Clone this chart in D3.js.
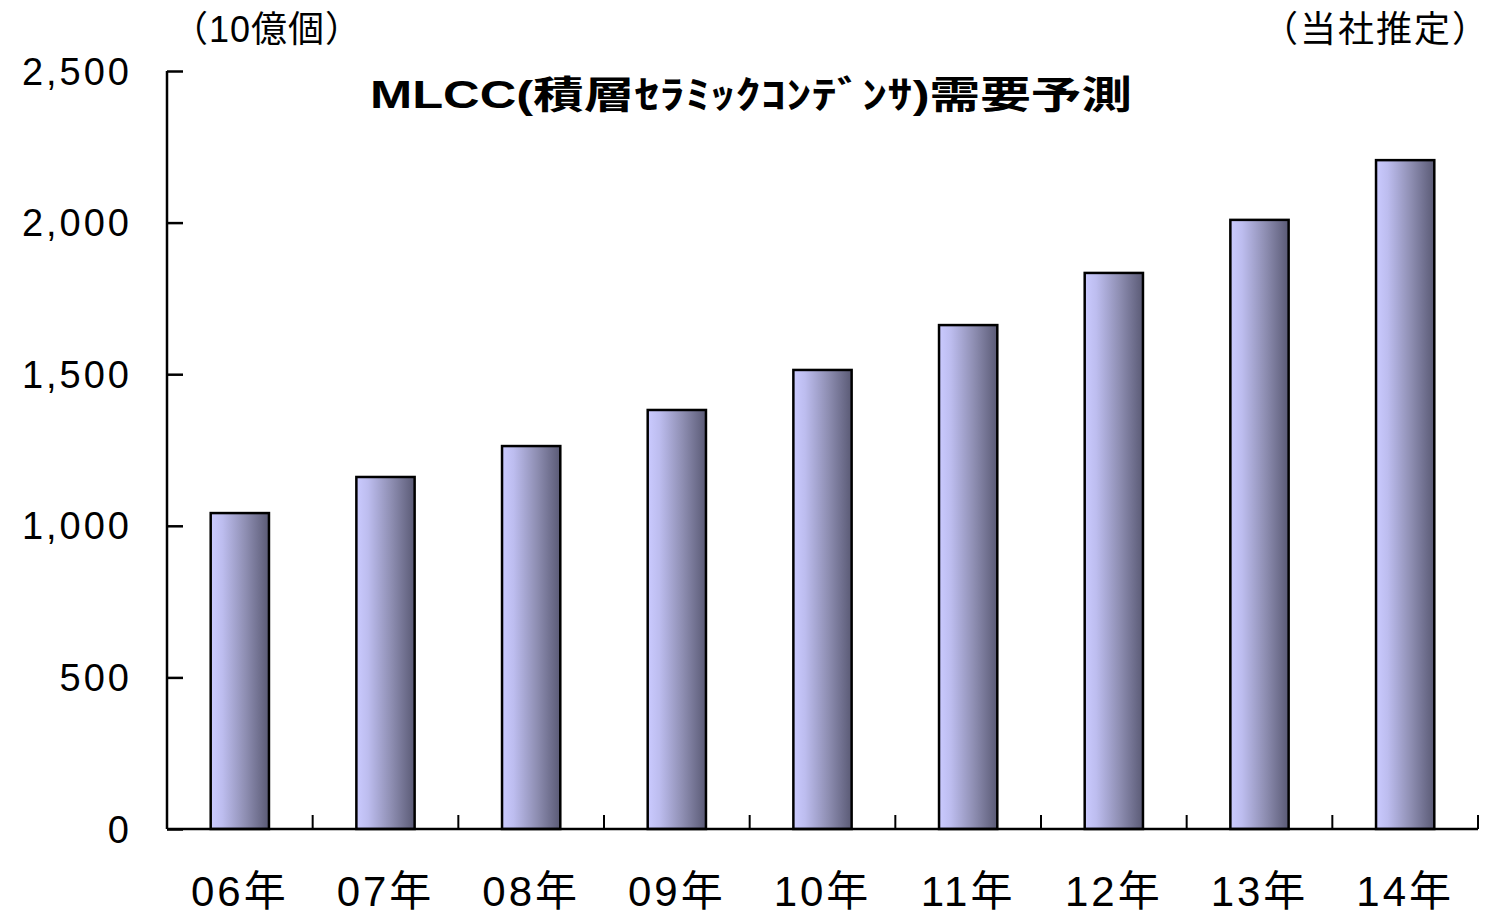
<!DOCTYPE html>
<html>
<head>
<meta charset="utf-8">
<script src="https://cdn.jsdelivr.net/npm/d3@7"></script>
<style>
  body { margin: 0; background: #fff; }
  text { font-family: "Liberation Sans", "Noto Sans CJK JP", sans-serif; }
</style>
</head>
<body>
<div id="chart"></div>
<script>
// data
const years = ["06年", "07年", "08年", "09年", "10年", "11年", "12年", "13年", "14年"];
const demand = [1042, 1161, 1263, 1382, 1514, 1662, 1834, 2009, 2206];
const yTicks = [0, 500, 1000, 1500, 2000, 2500];

const W = 1490, H = 915;
const margin = {left: 167, right: 12, top: 71, bottom: 86};

const svg = d3.select("#chart")
    .append("svg")
    .attr("width", W)
    .attr("height", H);

// gradient for bars
const grad = svg.append("defs").append("linearGradient")
    .attr("id", "barGrad")
    .attr("x1", "0%").attr("x2", "100%")
    .attr("y1", "0%").attr("y2", "0%");
grad.append("stop").attr("offset", "0%").attr("stop-color", "#cacaff");
grad.append("stop").attr("offset", "20%").attr("stop-color", "#bdbdef");
grad.append("stop").attr("offset", "60%").attr("stop-color", "#8e8eb2");
grad.append("stop").attr("offset", "100%").attr("stop-color", "#5a5a75");

const x = d3.scaleBand()
    .domain(years)
    .range([margin.left, W - margin.right])
    .paddingInner(0.6)
    .paddingOuter(0.3);

const y = d3.scaleLinear()
    .domain([0, 2500])
    .range([H - margin.bottom, margin.top]);

// bars
svg.selectAll("rect.bar")
    .data(demand)
    .enter()
    .append("rect")
    .attr("class", "bar")
    .attr("x", (d, i) => x(years[i]))
    .attr("y", d => y(d))
    .attr("width", x.bandwidth())
    .attr("height", d => y(0) - y(d))
    .attr("fill", "url(#barGrad)")
    .attr("stroke", "#000")
    .attr("stroke-width", 2.5);

// y axis
const yAxis = svg.append("g")
    .attr("transform", `translate(${margin.left},0)`)
    .call(d3.axisRight(y).tickValues(yTicks).tickSize(16).tickFormat(""));
yAxis.select(".domain").attr("stroke-width", 2.5).attr("d", `M0,${y(2500)}V${y(0)}`);
yAxis.selectAll(".tick line").attr("stroke-width", 2.5);

svg.selectAll("text.ylab")
    .data(yTicks)
    .enter()
    .append("text")
    .attr("class", "ylab")
    .attr("x", 132)
    .attr("y", d => y(d))
    .attr("dy", "0.36em")
    .attr("text-anchor", "end")
    .attr("font-size", 38)
    .attr("letter-spacing", 3)
    .text(d3.format(","));

// x axis: ticks between categories pointing up
const xb = d3.range(years.length + 1).map(i => margin.left + i * (W - margin.left - margin.right) / years.length);
svg.append("line")
    .attr("x1", margin.left).attr("x2", W - margin.right)
    .attr("y1", y(0)).attr("y2", y(0))
    .attr("stroke", "#000").attr("stroke-width", 2.5);
svg.selectAll("line.xtick")
    .data(xb.slice(1))
    .enter()
    .append("line")
    .attr("class", "xtick")
    .attr("x1", d => d).attr("x2", d => d)
    .attr("y1", y(0)).attr("y2", y(0) - 14)
    .attr("stroke", "#000").attr("stroke-width", 2);

svg.selectAll("text.xlab")
    .data(years)
    .enter()
    .append("text")
    .attr("class", "xlab")
    .attr("x", d => x(d) + x.bandwidth() / 2)
    .attr("y", 906)
    .attr("text-anchor", "middle")
    .attr("font-size", 42)
    .attr("letter-spacing", 3)
    .text(d => d);

// title and notes
svg.append("text")
    .attr("x", 370).attr("y", 108)
    .attr("font-size", 38)
    .attr("font-weight", "bold")
    .attr("textLength", 762)
    .attr("lengthAdjust", "spacingAndGlyphs")
    .text("MLCC(積層ｾﾗﾐｯｸｺﾝﾃﾞﾝｻ)需要予測");

svg.append("text")
    .attr("x", 172).attr("y", 42)
    .attr("font-size", 36)
    .attr("letter-spacing", 1)
    .text("（10億個）");

svg.append("text")
    .attr("x", 1490).attr("y", 42)
    .attr("text-anchor", "end")
    .attr("font-size", 36)
    .attr("letter-spacing", 2)
    .text("（当社推定）");
</script>
</body>
</html>
